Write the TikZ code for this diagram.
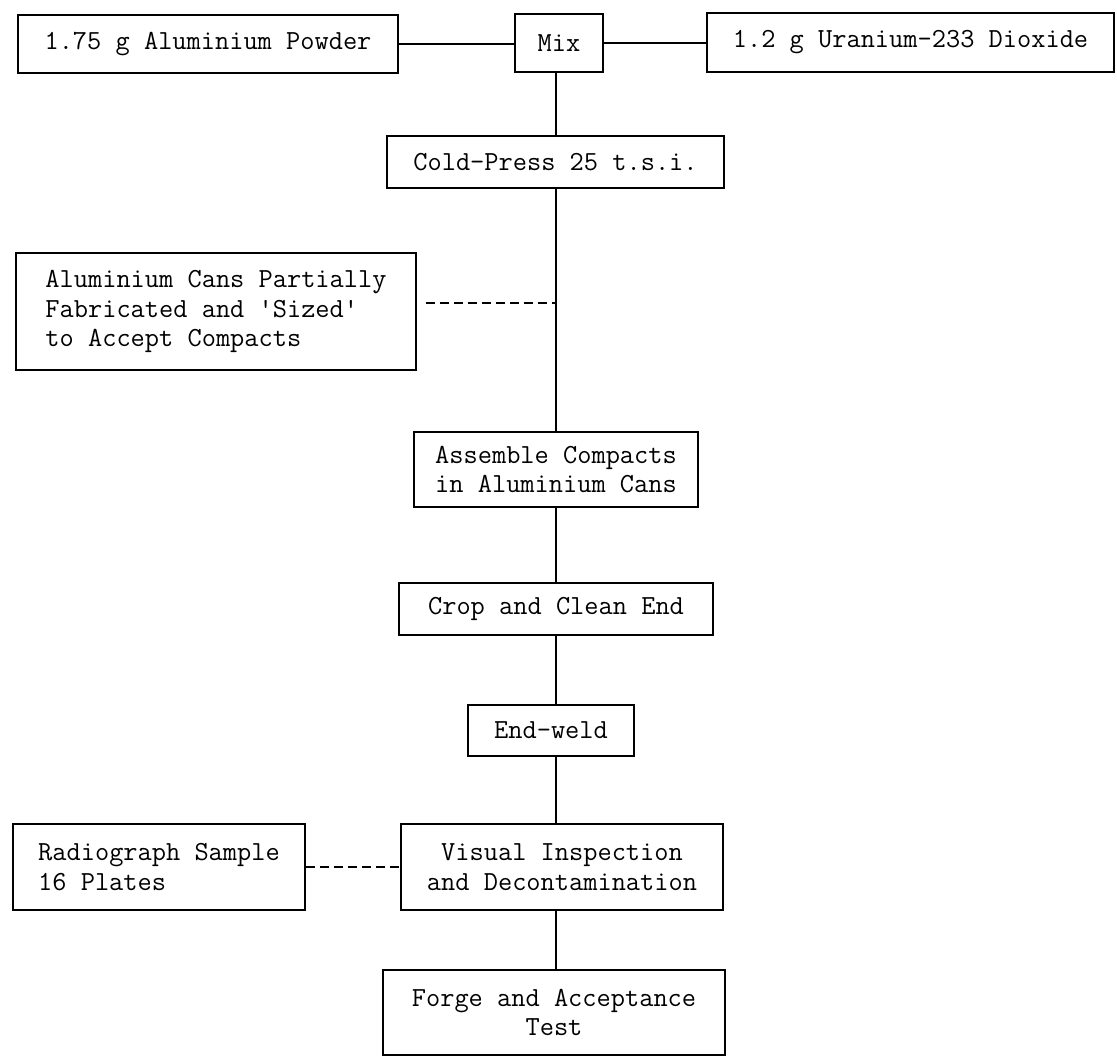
\documentclass[tikz,border=0pt]{standalone}
\usepackage{fontspec}
\begin{document}
\begin{tikzpicture}[x=1pt,y=-1pt,
  box/.style={draw, line width=1.5pt, inner sep=0pt, align=center,
    font=\ttfamily\fontsize{27.6}{29.5}\selectfont},
  link/.style={line width=1.5pt},
  dlink/.style={line width=1.5pt, dash pattern=on 9pt off 5pt}]
\useasboundingbox (0,0) rectangle (1117,1058);
\coordinate (spine) at (556,0);
\node[box, minimum width=380pt, minimum height=58pt] (alp) at (208,44) {1.75 g Aluminium Powder};
\node[box, minimum width=88pt, minimum height=58pt] (mix) at (559,43) {Mix};
\node[box, minimum width=407pt, minimum height=59pt] (u) at (910.5,42.5) {1.2 g Uranium-233 Dioxide};
\node[box, minimum width=337pt, minimum height=52pt] (cold) at (555.5,162) {Cold-Press 25 t.s.i.};
\node[box, align=left, minimum width=400pt, minimum height=117pt] (cans) at (216,311.5)
  {Aluminium Cans Partially\\Fabricated and 'Sized'\\to Accept Compacts};
\node[box, minimum width=284pt, minimum height=75pt] (asm) at (556,469.5) {Assemble Compacts\\in Aluminium Cans};
\node[box, minimum width=314pt, minimum height=52pt] (crop) at (556,609) {Crop and Clean End};
\node[box, minimum width=166pt, minimum height=51pt] (weld) at (551,730.5) {End-weld};
\node[box, minimum width=322pt, minimum height=86pt] (vis) at (562,867) {Visual Inspection\\and Decontamination};
\node[box, align=left, minimum width=292pt, minimum height=86pt] (rad) at (159,867)
  {Radiograph Sample\\16 Plates};
\node[box, minimum width=342pt, minimum height=85pt] (forge) at (554,1012.5) {Forge and Acceptance\\Test};
\coordinate (j1) at (556,303);
\draw[link] (alp.east) -- (alp.east -| mix.west);
\draw[link] (mix.east) -- (mix.east -| u.west);
\draw[link] (mix.south -| spine) -- (cold.north -| spine);
\draw[link] (cold.south -| spine) -- (asm.north -| spine);
\draw[link] (asm.south -| spine) -- (crop.north -| spine);
\draw[link] (crop.south -| spine) -- (weld.north -| spine);
\draw[link] (weld.south -| spine) -- (vis.north -| spine);
\draw[link] (vis.south -| spine) -- (forge.north -| spine);
\draw[dlink, shorten <=9pt] (j1 -| cans.east) -- (j1);
\draw[dlink] (rad.east) -- (vis.west);
\end{tikzpicture}
\end{document}
